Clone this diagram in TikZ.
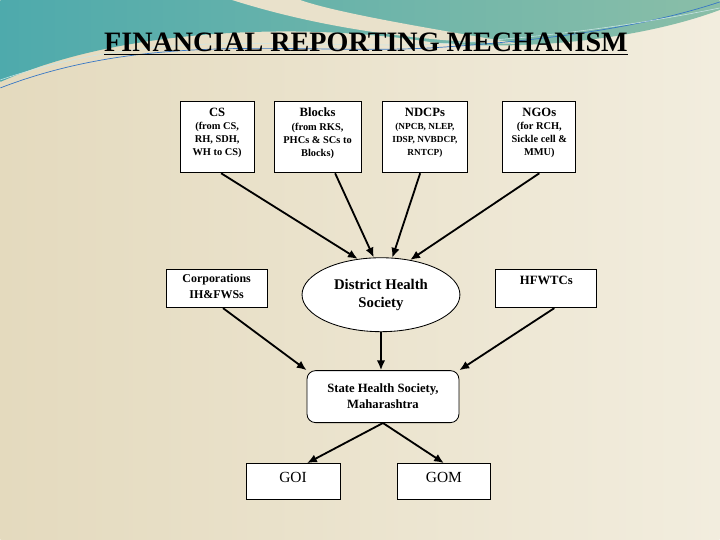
\documentclass[tikz,border=0pt]{standalone}
\usepackage{fontspec}
\setmainfont{Liberation Serif}
\usetikzlibrary{arrows.meta,shapes.geometric}

\definecolor{sandlight}{RGB}{242,237,222}
\definecolor{sanddark}{RGB}{228,218,190}
\definecolor{tealdark}{RGB}{78,170,172}
\definecolor{tealgreen}{RGB}{138,190,168}

\newcommand{\headfont}{\fontsize{9}{11.5}\selectfont\bfseries}
\newcommand{\subfont}{\fontsize{7.4}{9.3}\selectfont\bfseries}
\newcommand{\toptext}[3]{\parbox[c][#2][t]{#1}{\centering\vspace{4.5pt}#3}}

\begin{document}
\begin{tikzpicture}[x=0.025cm,y=-0.025cm,>=Latex]
  \tikzstyle{box}=[draw,fill=white,inner sep=0pt,line width=0.6pt]
  \tikzstyle{arr}=[->,line width=1.3pt,>={Latex[length=7pt,width=6pt]}]
  % background
  \shade[left color=sanddark,right color=sandlight] (0,0) rectangle (720,540);
  \shade[left color=tealdark,right color=tealgreen]
    (0,0) -- (720,0) -- (720,10) .. controls (640,40) and (520,52) .. (430,42)
    .. controls (300,22) and (120,28) .. (0,82) -- cycle;
  \fill[sanddark!80!white] (232,0) .. controls (320,28) and (420,42) .. (520,44)
    .. controls (440,30) and (340,14) .. (300,0) -- cycle;
  \draw[tealdark!70!blue,line width=0.5pt] (0,88) .. controls (150,30) and (300,55) .. (430,48)
    .. controls (560,40) and (650,25) .. (720,2);
  \draw[white!70!tealdark,line width=0.4pt] (0,80) .. controls (160,25) and (300,50) .. (440,44)
    .. controls (570,36) and (660,20) .. (720,8);
  \useasboundingbox (0,0) rectangle (720,540);

  \node (title) at (366,44) {\fontsize{20}{24}\selectfont\bfseries\underline{FINANCIAL REPORTING MECHANISM}};

  % sources
  \node[box] (cs) at (217,137.5) {\toptext{1.85cm}{1.775cm}{{\headfont CS\par}{\subfont (from CS,\\RH, SDH,\\WH to CS)\par}}};
  \node[box] (blocks) at (317.5,137.5) {\toptext{2.175cm}{1.775cm}{{\headfont Blocks\par}{\subfont (from RKS,\\PHCs \& SCs to\\Blocks)\par}}};
  \node[box] (ndcp) at (425,137.5) {\toptext{2.15cm}{1.775cm}{{\headfont NDCPs\par}{\fontsize{6.6}{9.3}\selectfont\bfseries (NPCB, NLEP,\\IDSP, NVBDCP,\\RNTCP)\par}}};
  \node[box] (ngo) at (539.5,137.5) {\toptext{1.825cm}{1.775cm}{{\headfont NGOs\par}{\subfont (for RCH,\\Sickle cell \&\\MMU)\par}}};

  \node[box] (corp) at (216.5,289) {\toptext{2.525cm}{0.95cm}{\fontsize{8.5}{11}\selectfont\bfseries\vspace{-1pt}Corporations\\IH\&FWSs\par}};
  \node[box,ellipse,minimum width=3.95cm,minimum height=1.85cm,inner sep=0pt,align=center,font=\fontsize{10.5}{12.5}\selectfont\bfseries] (dhs) at (381,295) {District Health\\Society};
  \node[box] (hfwtc) at (546.5,289) {\toptext{2.525cm}{0.95cm}{\fontsize{9}{11}\selectfont\bfseries HFWTCs\par}};

  \node[box,rounded corners=6pt,minimum width=3.8cm,minimum height=1.3cm,align=center,font=\fontsize{9}{11.4}\selectfont\bfseries] (shs) at (383,397) {State Health Society,\\Maharashtra};

  \node[box] (goi) at (293,482) {\toptext{2.35cm}{0.9cm}{\vspace{2pt}\fontsize{11}{13}\selectfont GOI\par}};
  \node[box] (gom) at (444,482) {\toptext{2.35cm}{0.9cm}{\vspace{2pt}\fontsize{11}{13}\selectfont GOM\par}};

  \draw[arr] ([xshift=0.1cm]cs.south) -- (dhs.123);
  \draw[arr] ([xshift=0.44cm]blocks.south) -- (dhs.101);
  \draw[arr] ([xshift=-0.12cm]ndcp.south) -- (dhs.73);
  \draw[arr] (ngo.south) -- (dhs.50);
  \draw[arr] ([xshift=0.16cm]corp.south) -- (shs.north west);
  \draw[arr] ([xshift=0.2cm]hfwtc.south) -- (shs.north east);
  \draw[arr] (dhs.south) -- (dhs.south |- shs.north);
  \draw[arr] (shs.south) -- ([xshift=0.35cm]goi.north);
  \draw[arr] (shs.south) -- (gom.north);
\end{tikzpicture}
\end{document}
